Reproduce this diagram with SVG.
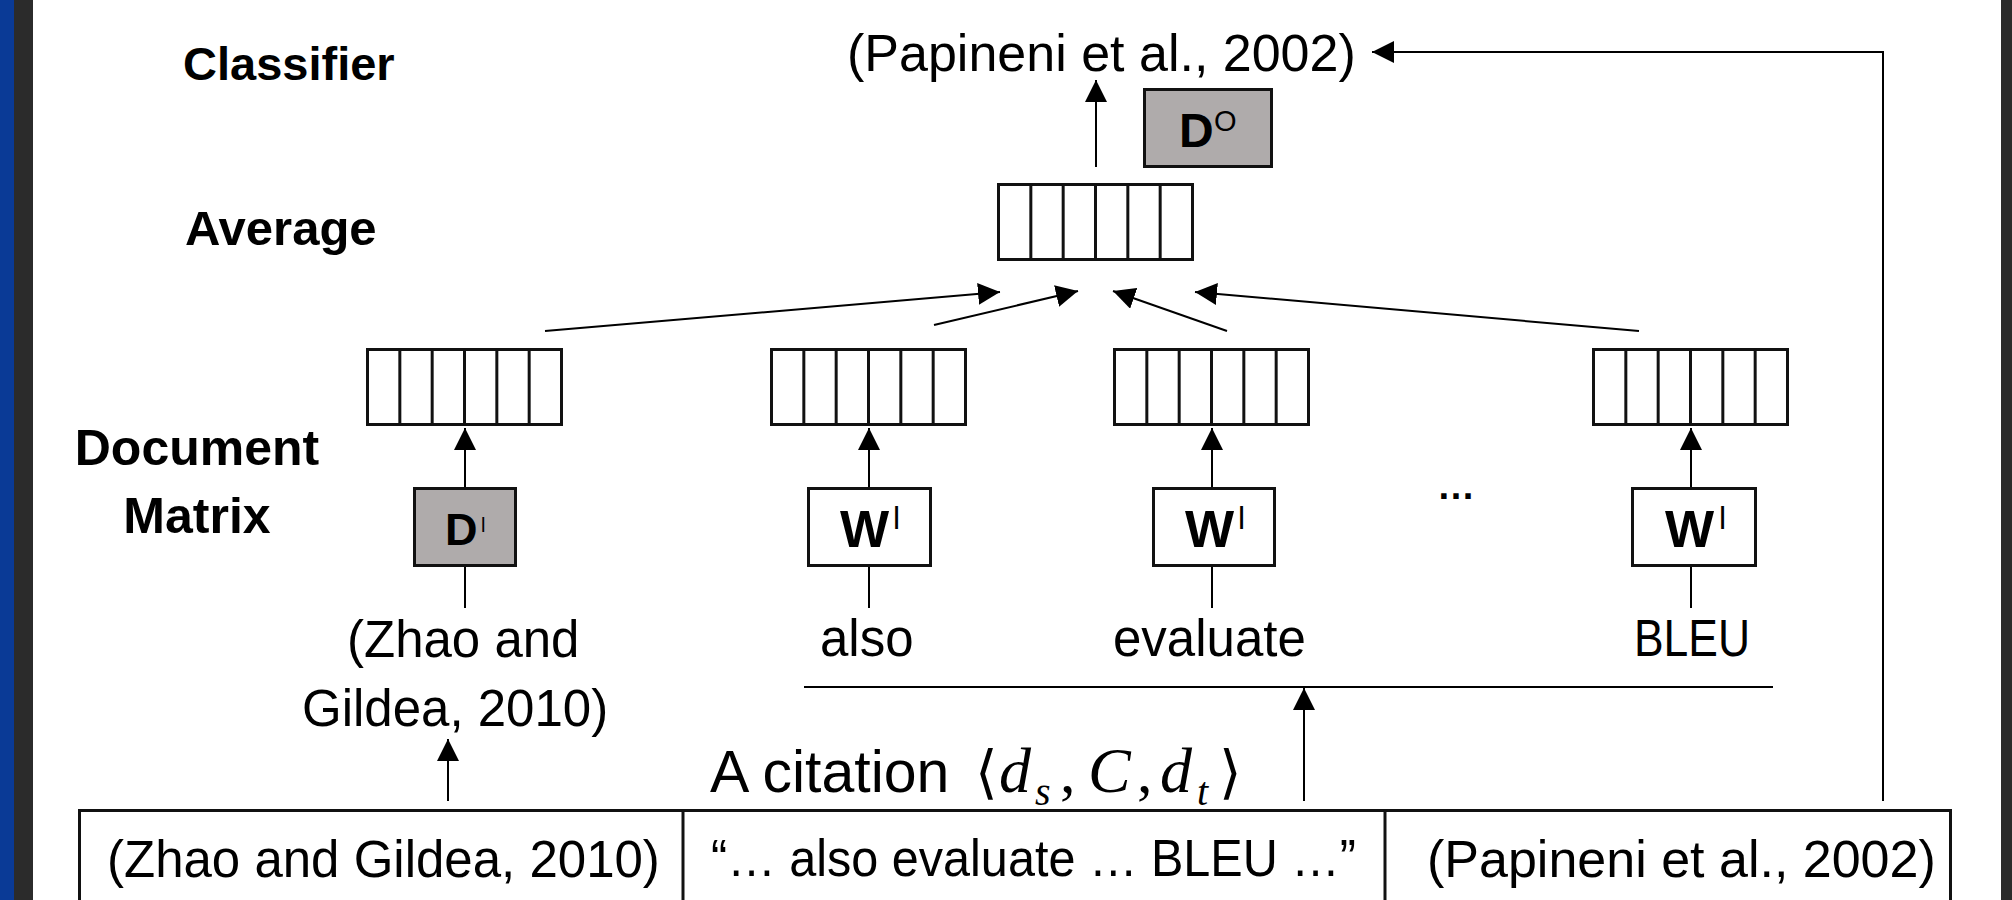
<svg xmlns="http://www.w3.org/2000/svg" xmlns:xlink="http://www.w3.org/1999/xlink" width="2012" height="900" viewBox="0 0 2012 900">
  <style>
    .lbl { font-family: "Liberation Sans", Arial, sans-serif; fill: #000; }
    .hdr { font-family: "Liberation Sans", Arial, sans-serif; font-weight: bold; fill: #000; }
    .sym { font-family: "Liberation Sans", Arial, sans-serif; fill: #000; }
    .math { font-family: "Liberation Serif", "DejaVu Serif", serif; font-style: italic; fill: #000; }
    .brk { font-family: "DejaVu Sans", sans-serif; fill: #000; }
    .punc { font-family: "Liberation Serif", serif; fill: #000; }
    .cell { fill: #fff; stroke: #111; stroke-width: 3; }
    .div { stroke: #111; stroke-width: 3; }
    .gbox { fill: #afabab; stroke: #111; stroke-width: 3; }
    .wbox { fill: #fff; stroke: #111; stroke-width: 3; }
    .conn { stroke: #000; stroke-width: 2; fill: none; }
    .tbl { fill: #fff; stroke: #111; stroke-width: 3; }
  </style>
  <defs>
    <marker id="ah" viewBox="0 0 22 22" refX="22" refY="11" markerWidth="22" markerHeight="22" markerUnits="userSpaceOnUse" orient="auto">
      <path d="M0,0 L22,11 L0,22 z" fill="#000"/>
    </marker>
    <g id="vec">
      <rect class="cell" x="1.5" y="1.5" width="194" height="75"/>
      <line class="div" x1="33.83" y1="1.5" x2="33.83" y2="76.5"/>
      <line class="div" x1="66.17" y1="1.5" x2="66.17" y2="76.5"/>
      <line class="div" x1="98.5" y1="1.5" x2="98.5" y2="76.5"/>
      <line class="div" x1="130.83" y1="1.5" x2="130.83" y2="76.5"/>
      <line class="div" x1="163.17" y1="1.5" x2="163.17" y2="76.5"/>
    </g>
  </defs>

  <rect x="0" y="0" width="2012" height="900" fill="#fff"/>
  <rect x="0" y="0" width="14" height="900" fill="#0a3a96"/>
  <rect x="14" y="0" width="19" height="900" fill="#2b2b2b"/>
  <rect x="2001" y="0" width="11" height="900" fill="#2b2b2b"/>

  <!-- row labels -->
  <g id="row-labels">
    <text class="hdr" x="183" y="80" font-size="47">Classifier</text>
    <text class="hdr" x="185" y="245" font-size="49">Average</text>
    <text class="hdr" x="197" y="465" font-size="50" text-anchor="middle">Document</text>
    <text class="hdr" x="197" y="533" font-size="50" text-anchor="middle">Matrix</text>
  </g>

  <!-- output label -->
  <g id="output-label">
    <text class="lbl" x="847" y="71" font-size="52">(Papineni et al., 2002)</text>
  </g>

  <!-- D^O box -->
  <g id="node-DO">
    <rect class="gbox" x="1144.5" y="89.5" width="127" height="77"/>
    <text class="hdr" x="1179" y="147" font-size="48">D</text>
    <text class="sym" x="1214" y="131" font-size="29">O</text>
  </g>

  <!-- average vector -->
  <g id="node-avg">
    <use xlink:href="#vec" href="#vec" x="997" y="183"/>
  </g>

  <!-- document-level vectors -->
  <g id="node-vec1"><use xlink:href="#vec" href="#vec" x="366" y="348"/></g>
  <g id="node-vec2"><use xlink:href="#vec" href="#vec" x="770" y="348"/></g>
  <g id="node-vec3"><use xlink:href="#vec" href="#vec" x="1113" y="348"/></g>
  <g id="node-vec4"><use xlink:href="#vec" href="#vec" x="1592" y="348"/></g>

  <!-- input matrices -->
  <g id="node-DI">
    <rect class="gbox" x="414.5" y="488.5" width="101" height="77"/>
    <text class="hdr" x="445" y="545" font-size="45">D</text>
    <text class="sym" x="481" y="532" font-size="20">l</text>
  </g>
  <g id="node-W1">
    <rect class="wbox" x="808.5" y="488.5" width="122" height="77"/>
    <text class="hdr" x="840" y="547" font-size="52">W</text>
    <text class="sym" x="893" y="529" font-size="32">l</text>
  </g>
  <g id="node-W2">
    <rect class="wbox" x="1153.5" y="488.5" width="121" height="77"/>
    <text class="hdr" x="1185" y="547" font-size="52">W</text>
    <text class="sym" x="1238" y="529" font-size="32">l</text>
  </g>
  <g id="node-W3">
    <rect class="wbox" x="1632.5" y="488.5" width="123" height="77"/>
    <text class="hdr" x="1665" y="547" font-size="52">W</text>
    <text class="sym" x="1719" y="529" font-size="32">l</text>
  </g>

  <!-- ellipsis between columns -->
  <g id="node-ellipsis">
    <text class="sym" x="1437" y="499" font-size="38" font-weight="bold">…</text>
  </g>

  <!-- word labels -->
  <g id="node-words">
    <text class="lbl" x="347" y="657" font-size="51">(Zhao and</text>
    <text class="lbl" x="302" y="726" font-size="51">Gildea, 2010)</text>
    <text class="lbl" x="820" y="656" font-size="51">also</text>
    <text class="lbl" x="1113" y="656" font-size="51">evaluate</text>
    <text class="lbl" x="1634" y="656" font-size="51" textLength="116" lengthAdjust="spacingAndGlyphs">BLEU</text>
  </g>

  <!-- citation caption -->
  <g id="node-caption">
    <text class="lbl" x="710" y="792" font-size="59">A citation</text>
    <text class="brk" x="975" y="792" font-size="58">⟨</text>
    <text class="math" x="999" y="792" font-size="64">d</text>
    <text class="math" x="1035" y="805" font-size="40">s</text>
    <text class="punc" x="1060" y="792" font-size="62">,</text>
    <text class="math" x="1088" y="792" font-size="64">C</text>
    <text class="punc" x="1137" y="792" font-size="62">,</text>
    <text class="math" x="1160" y="792" font-size="64">d</text>
    <text class="math" x="1197" y="805" font-size="40">t</text>
    <text class="brk" x="1219" y="792" font-size="58">⟩</text>
  </g>

  <!-- citation table -->
  <g id="node-table">
    <rect class="tbl" x="79.5" y="810.5" width="1871" height="120"/>
    <line class="div" x1="683" y1="810" x2="683" y2="900"/>
    <line class="div" x1="1385" y1="810" x2="1385" y2="900"/>
    <text class="lbl" x="107" y="877" font-size="51">(Zhao and Gildea, 2010)</text>
    <text class="lbl" x="711" y="876" font-size="52" textLength="645" lengthAdjust="spacingAndGlyphs">“… also evaluate … BLEU …”</text>
    <text class="lbl" x="1427" y="877" font-size="52">(Papineni et al., 2002)</text>
  </g>

  <!-- connectors -->
  <g id="connectors">
    <line class="conn" x1="1096" y1="167" x2="1096" y2="80" marker-end="url(#ah)"/>
    <path class="conn" d="M1883,801 V52 H1372" marker-end="url(#ah)"/>

    <line class="conn" x1="545" y1="331" x2="1000" y2="292" marker-end="url(#ah)"/>
    <line class="conn" x1="934" y1="325" x2="1078" y2="291" marker-end="url(#ah)"/>
    <line class="conn" x1="1227" y1="331" x2="1113" y2="291" marker-end="url(#ah)"/>
    <line class="conn" x1="1639" y1="331" x2="1195" y2="292" marker-end="url(#ah)"/>

    <line class="conn" x1="465" y1="487" x2="465" y2="428" marker-end="url(#ah)"/>
    <line class="conn" x1="869" y1="487" x2="869" y2="428" marker-end="url(#ah)"/>
    <line class="conn" x1="1212" y1="487" x2="1212" y2="428" marker-end="url(#ah)"/>
    <line class="conn" x1="1691" y1="487" x2="1691" y2="428" marker-end="url(#ah)"/>

    <line class="conn" x1="465" y1="567" x2="465" y2="608"/>
    <line class="conn" x1="869" y1="567" x2="869" y2="608"/>
    <line class="conn" x1="1212" y1="567" x2="1212" y2="608"/>
    <line class="conn" x1="1691" y1="567" x2="1691" y2="608"/>

    <line class="conn" x1="804" y1="687" x2="1773" y2="687" stroke-width="2.5"/>
    <line class="conn" x1="1304" y1="801" x2="1304" y2="688" marker-end="url(#ah)"/>
    <line class="conn" x1="448" y1="801" x2="448" y2="739" marker-end="url(#ah)"/>
  </g>
</svg>
